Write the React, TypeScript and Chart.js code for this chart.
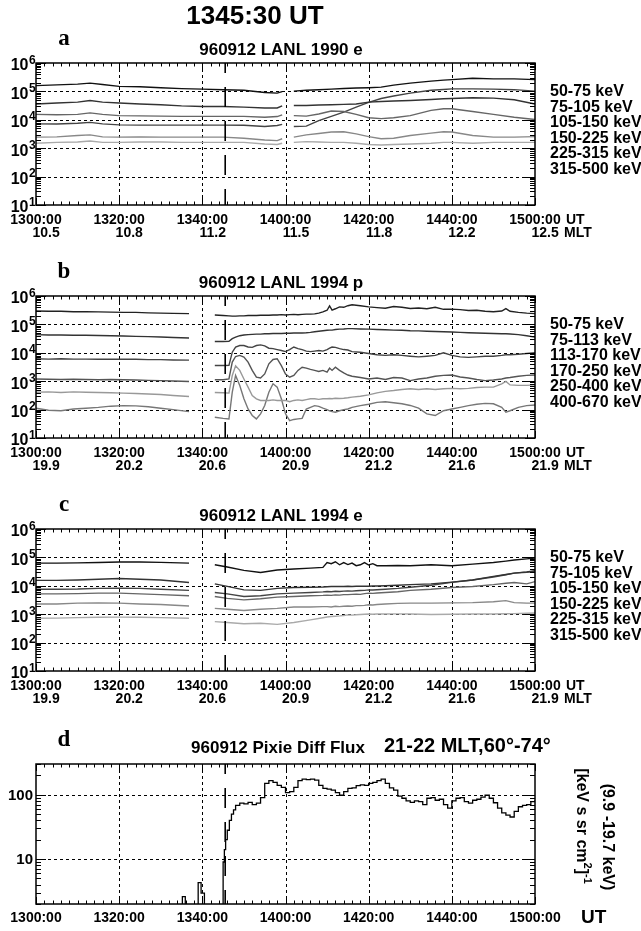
import { useEffect, useRef } from 'react';
import { Chart, registerables } from 'chart.js';

Chart.register(...registerables);

// ---------------- shared axis data ----------------
const UT_TICK_MIN = [0, 20, 40, 60, 80, 100, 120]; // minutes after 1300 UT
const UT_LABELS = ['1300:00', '1320:00', '1340:00', '1400:00', '1420:00', '1440:00', '1500:00'];
const MLT_1990 = ['10.5', '10.8', '11.2', '11.5', '11.8', '12.2', '12.5'];
const MLT_1994 = ['19.9', '20.2', '20.6', '20.9', '21.2', '21.6', '21.9'];
const EVENT_MIN = 45.5; // 1345:30 UT
const HEADLINE = '1345:30 UT';
const DECADE_EXPS = [1, 2, 3, 4, 5, 6];
const PIXIE_Y_TICKS = [10, 100];
const PIXIE_Y_LABELS = ['10', '100'];

const LEGEND_1990E = ['50-75 keV', '75-105 keV', '105-150 keV', '150-225 keV', '225-315 keV', '315-500 keV'];
const LEGEND_1994P = ['50-75 keV', '75-113 keV', '113-170 keV', '170-250 keV', '250-400 keV', '400-670 keV'];
const LEGEND_1994E = ['50-75 keV', '75-105 keV', '105-150 keV', '150-225 keV', '225-315 keV', '315-500 keV'];

// ---------------- panel a: LANL 1990 electrons ----------------
const TIME_A = [0, 5, 10, 13, 16, 20, 25, 30, 35, 40, 45, 50, 55, 58, 59.2, 60.5, 62, 65, 68, 71, 74, 77, 80, 83, 86, 90, 95, 98, 100, 105, 110, 115, 120];
const A_50_75 = [1.6e5, 1.7e5, 1.8e5, 1.95e5, 1.75e5, 1.5e5, 1.45e5, 1.35e5, 1.25e5, 1.2e5, 1.15e5, 1.1e5, 9.1e4, 8.7e4, 9.8e4, null, 1.02e5, 1.1e5, 1.15e5, 1.2e5, 1.26e5, 1.32e5, 1.35e5, 1.41e5, 1.66e5, 1.95e5, 2.3e5, 2.5e5, 2.6e5, 2.9e5, 2.75e5, 2.75e5, 2.6e5];
const A_75_105 = [3.6e4, 3.9e4, 4.2e4, 4.8e4, 4.2e4, 3.9e4, 3.6e4, 3.4e4, 3.1e4, 2.95e4, 2.95e4, 2.8e4, 2.6e4, 2.6e4, 3.1e4, null, 3.2e4, 3.2e4, 3.3e4, 3.4e4, 3.5e4, 3.6e4, 4.2e4, 4.4e4, 4.6e4, 4.8e4, 5.2e4, 5.5e4, 5.6e4, 6.0e4, 5.8e4, 5.1e4, 3.6e4];
const A_105_150 = [1.55e4, 1.5e4, 1.55e4, 1.75e4, 1.55e4, 1.4e4, 1.38e4, 1.35e4, 1.32e4, 1.32e4, 1.32e4, 1.32e4, 1.23e4, 1.3e4, 1.5e4, null, 1.4e4, 1.35e4, 1.6e4, 2.05e4, 1.95e4, 1.55e4, 1.18e4, 1.1e4, 1.18e4, 1.4e4, 2.15e4, 2.45e4, 2.45e4, 1.95e4, 1.55e4, 1.23e4, 1.02e4];
const A_150_225 = [7.2e3, 7.1e3, 7.6e3, 8.1e3, 7.2e3, 6.6e3, 6.5e3, 6.5e3, 6.5e3, 6.5e3, 6.5e3, 6.4e3, 5.8e3, 6.3e3, 6.9e3, null, 5.8e3, 6.0e3, 9.3e3, 1.32e4, 1.86e4, 2.8e4, 4.1e4, 5.6e4, 6.9e4, 8.7e4, 1.1e5, 1.17e5, 1.23e5, 1.23e5, 1.2e5, 1.15e5, 1.02e5];
const A_225_315 = [2.45e3, 2.5e3, 2.8e3, 2.95e3, 2.5e3, 2.45e3, 2.5e3, 2.45e3, 2.45e3, 2.45e3, 2.45e3, 2.25e3, 1.95e3, 1.85e3, 2.15e3, null, 2.45e3, 2.95e3, 3.3e3, 3.7e3, 3.8e3, 3.2e3, 2.55e3, 2.15e3, 2.25e3, 2.8e3, 3.4e3, 3.8e3, 3.7e3, 2.8e3, 2.45e3, 2.45e3, 2.55e3];
const A_315_500 = [1.5e3, 1.6e3, 1.65e3, 1.8e3, 1.6e3, 1.6e3, 1.65e3, 1.65e3, 1.6e3, 1.6e3, 1.6e3, 1.6e3, 1.4e3, 1.35e3, 1.5e3, null, 1.6e3, 1.7e3, 1.65e3, 1.6e3, 1.6e3, 1.5e3, 1.35e3, 1.3e3, 1.35e3, 1.4e3, 1.5e3, 1.6e3, 1.6e3, 1.5e3, 1.6e3, 1.6e3, 1.6e3];

// ---------------- panel b: LANL 1994 protons ----------------
const TIME_B = [0, 3, 6, 9, 12, 15, 18, 21, 24, 27, 30, 33, 36.8, 40,
  43, 45, 46.4, 47.2, 48, 49, 50, 51, 52, 53, 54, 55, 56, 57, 58, 59, 60, 61, 62, 63, 64, 65, 66, 67, 68, 69, 70, 70.6, 71.2,
  72, 73, 74, 75, 76, 78, 80, 82, 84, 86, 88, 90, 92, 94, 96, 98, 100, 102, 104, 106, 108, 110, 112, 113, 114, 116, 118, 120];
const B_50_75 = [2.95e5, 2.9e5, 2.9e5, 2.8e5, 2.8e5, 2.75e5, 2.7e5, 2.65e5, 2.65e5, 2.55e5, 2.5e5, 2.45e5, 2.4e5, null,
  2.15e5, 2.05e5, 2.0e5, 1.95e5, 1.95e5, 2.0e5, 2.0e5, 2.05e5, 2.05e5, 2.05e5, 2.1e5, 2.1e5, 2.1e5, 2.15e5, 2.15e5, 2.2e5, 2.15e5, 2.2e5, 2.25e5, 2.2e5, 2.25e5, 2.3e5, 2.3e5, 2.35e5, 2.5e5, 2.75e5, 3.15e5, 4.5e5, 3.2e5,
  3.55e5, 4.15e5, 4.0e5, 4.55e5, 4.9e5, 4.55e5, 4.15e5, 3.9e5, 3.7e5, 4.25e5, 4.0e5, 3.65e5, 3.8e5, 3.55e5, 4.0e5, 3.4e5, 3.45e5, 3.3e5, 3.1e5, 3.15e5, 2.9e5, 2.8e5, 2.95e5, 3.6e5, 2.9e5, 2.65e5, 2.5e5, 2.4e5];
const B_75_113 = [4.35e4, 4.25e4, 4.25e4, 4.15e4, 4.15e4, 4.05e4, 4.0e4, 3.9e4, 3.8e4, 3.7e4, 3.6e4, 3.45e4, 3.3e4, null,
  2.5e4, 2.5e4, 2.55e4, 3.15e4, 3.55e4, 4.0e4, 4.25e4, 4.35e4, 4.45e4, 4.55e4, 4.55e4, 4.7e4, 4.7e4, 4.8e4, 4.8e4, 4.8e4, 4.9e4, 4.9e4, 5.0e4, 5.0e4, 5.0e4, 5.1e4, 5.25e4, 5.5e4, 5.75e4, 6.0e4, 6.2e4, 6.3e4, 6.3e4,
  6.6e4, 6.8e4, 6.9e4, 7.1e4, 7.1e4, 6.9e4, 6.8e4, 6.6e4, 6.5e4, 6.3e4, 6.2e4, 6.0e4, 5.9e4, 5.75e4, 5.6e4, 5.5e4, 5.4e4, 5.25e4, 5.1e4, 5.0e4, 4.9e4, 4.8e4, 4.7e4, 4.7e4, 4.6e4, 4.35e4, 4.0e4, 3.55e4];
const B_113_170 = [6.2e3, 6.0e3, 6.2e3, 6.0e3, 6.0e3, 5.9e3, 6.0e3, 5.9e3, 5.9e3, 5.75e3, 5.75e3, 5.6e3, 5.5e3, null,
  3.55e3, 3.55e3, 3.6e3, 1.05e4, 1.6e4, 1.8e4, 1.8e4, 1.6e4, 1.55e4, 1.8e4, 1.9e4, 1.75e4, 1.45e4, 1.4e4, 1.3e4, 1.2e4, 1.1e4, 1.3e4, 1.6e4, 1.4e4, 1.3e4, 1.15e4, 1.1e4, 1.15e4, 1.2e4, 1.15e4, 1.3e4, 1.45e4, 1.6e4,
  1.55e4, 1.4e4, 1.3e4, 1.25e4, 1.1e4, 1.05e4, 9.5e3, 8.5e3, 8.1e3, 8.5e3, 8.1e3, 7.6e3, 7.2e3, 7.6e3, 8.1e3, 1.0e4, 8.1e3, 7.2e3, 6.9e3, 7.2e3, 7.6e3, 7.6e3, 8.1e3, 8.5e3, 8.5e3, 8.9e3, 9.5e3, 1.0e4];
const B_170_250 = [1.2e3, 1.17e3, 1.15e3, 1.17e3, 1.15e3, 1.12e3, 1.15e3, 1.12e3, 1.1e3, 1.07e3, 1.05e3, 1.02e3, 9.8e2, null,
  1.12e3, 1.12e3, 1.2e3, 4.7e3, 7.4e3, 8.1e3, 7.1e3, 4.7e3, 2.4e3, 1.38e3, 1.3e3, 1.8e3, 4.1e3, 5.8e3, 6.2e3, 3.55e3, 1.8e3, 1.38e3, 1.6e3, 2.4e3, 3.1e3, 2.9e3, 2.6e3, 2.4e3, 2.2e3, 2.4e3, 2.1e3, 2.9e3, 2.4e3,
  3.1e3, 2.4e3, 1.95e3, 1.65e3, 1.5e3, 1.35e3, 1.2e3, 1.3e3, 1.15e3, 1.35e3, 1.3e3, 1.05e3, 1.2e3, 1.3e3, 1.5e3, 1.6e3, 1.65e3, 1.4e3, 1.3e3, 1.15e3, 1.05e3, 1.1e3, 1.2e3, 1.3e3, 1.35e3, 1.5e3, 1.6e3, 1.65e3];
const B_250_400 = [4.1e2, 4.2e2, 4.0e2, 4.2e2, 4.1e2, 4.0e2, 3.9e2, 3.8e2, 3.7e2, 3.55e2, 3.4e2, 3.15e2, 2.9e2, null,
  4.0e2, 3.9e2, 3.8e2, 1.6e3, 3.5e3, 2.4e3, 1.2e3, 6.2e2, 3.1e2, 2.4e2, 2.1e2, 2.1e2, 2.1e2, 2.2e2, 2.1e2, 2.1e2, 2.1e2, 1.9e2, 2.1e2, 2.2e2, 2.1e2, 2.25e2, 2.4e2, 2.4e2, 2.3e2, 2.4e2, 2.4e2, 2.45e2, 2.4e2,
  2.5e2, 2.45e2, 2.5e2, 2.6e2, 2.75e2, 2.95e2, 3.3e2, 3.9e2, 4.4e2, 4.7e2, 5.1e2, 5.4e2, 5.1e2, 5.4e2, 5.1e2, 5.4e2, 5.6e2, 5.4e2, 5.6e2, 6.0e2, 6.2e2, 6.2e2, 8.1e2, 9.8e2, 7.4e2, 7.1e2, 7.1e2, 7.4e2];
const B_400_670 = [1.12e2, 95, 91, 1.05e2, 1.12e2, 1.2e2, 1.32e2, 1.38e2, 1.35e2, 1.26e2, 1.12e2, 1.0e2, 85, null,
  54, 49, 47, 4.1e2, 1.6e3, 7.1e2, 2.4e2, 1.05e2, 62, 47, 71, 1.4e2, 4.1e2, 8.1e2, 6.2e2, 2.4e2, 71, 41, 45, 47, 49, 1.05e2, 1.2e2, 1.38e2, 1.3e2, 1.12e2, 1.0e2, 91, 85,
  81, 91, 1.0e2, 1.05e2, 1.2e2, 1.38e2, 1.55e2, 1.8e2, 1.9e2, 1.75e2, 1.6e2, 1.4e2, 1.12e2, 71, 62, 91, 1.05e2, 1.2e2, 1.38e2, 1.55e2, 1.65e2, 1.6e2, 1.2e2, 81, 91, 1.2e2, 1.38e2, 1.45e2];

// ---------------- panel c: LANL 1994 electrons ----------------
const TIME_C = [0, 5, 10, 15, 20, 25, 30, 36.8, 40, 43, 46, 50, 54, 58, 62, 66, 69, 70, 71, 72, 73, 74, 75, 76, 77, 78, 79, 80, 81, 82, 84, 87, 90, 95, 100, 105, 110, 113, 115, 118, 120];
const C_50_75 = [6.3e4, 6.3e4, 6.4e4, 6.6e4, 6.9e4, 6.9e4, 6.7e4, 6.3e4, null, 5.5e4, 4.6e4, 3.5e4, 2.95e4, 3.6e4, 3.9e4, 4.2e4, 4.45e4, 6.6e4, 6.0e4, 7.0e4, 5.5e4, 6.6e4, 5.6e4, 6.3e4, 5.1e4, 5.5e4, 6.6e4, 5.4e4, 6.0e4, 5.1e4, 5.1e4, 5.2e4, 5.1e4, 5.5e4, 5.1e4, 5.8e4, 6.6e4, 7.4e4, 8.1e4, 8.9e4, 9.5e4];
const C_75_105 = [1.55e4, 1.55e4, 1.6e4, 1.7e4, 1.8e4, 1.7e4, 1.6e4, 1.3e4, null, 1.17e4, 9.5e3, 7.2e3, 6.9e3, 8.1e3, 8.7e3, 8.9e3, 9.1e3, 9.3e3, 9.4e3, 9.5e3, 9.4e3, 9.5e3, 9.6e3, 9.5e3, 9.6e3, 9.7e3, 9.6e3, 9.7e3, 9.8e3, 9.8e3, 1.0e4, 1.05e4, 1.1e4, 1.17e4, 1.35e4, 1.6e4, 2.15e4, 2.5e4, 2.8e4, 3.1e4, 3.4e4];
const C_105_150 = [7.6e3, 7.6e3, 7.7e3, 8.1e3, 8.2e3, 8.1e3, 7.6e3, 6.9e3, null, 5.8e3, 5.2e3, 4.2e3, 4.45e3, 5.2e3, 5.5e3, 5.8e3, 6.1e3, 6.3e3, 6.2e3, 6.4e3, 6.3e3, 6.5e3, 6.6e3, 6.5e3, 6.7e3, 6.8e3, 6.9e3, 7.2e3, 7.1e3, 7.3e3, 7.6e3, 8.1e3, 8.9e3, 1.05e4, 1.32e4, 1.6e4, 2.05e4, 2.45e4, 2.8e4, 3.0e4, 3.2e4];
const C_150_225 = [5.2e3, 5.2e3, 5.3e3, 5.5e3, 5.5e3, 5.2e3, 4.9e3, 4.45e3, null, 4.2e3, 3.6e3, 3.2e3, 3.5e3, 4.0e3, 4.2e3, 4.45e3, 4.6e3, 4.7e3, 4.6e3, 4.8e3, 4.7e3, 4.9e3, 4.9e3, 5.0e3, 5.1e3, 5.0e3, 5.3e3, 5.5e3, 5.4e3, 5.6e3, 5.8e3, 6.2e3, 6.9e3, 7.6e3, 8.7e3, 9.5e3, 1.1e4, 1.23e4, 1.3e4, 1.17e4, 1.4e4];
const C_225_315 = [2.3e3, 2.3e3, 2.45e3, 2.5e3, 2.45e3, 2.3e3, 2.2e3, 1.95e3, null, 1.6e3, 1.5e3, 1.35e3, 1.5e3, 1.6e3, 1.8e3, 1.8e3, 1.85e3, 1.85e3, 1.8e3, 1.9e3, 1.85e3, 1.9e3, 1.95e3, 1.9e3, 2.0e3, 2.0e3, 2.05e3, 2.15e3, 2.1e3, 2.2e3, 2.3e3, 2.4e3, 2.45e3, 2.45e3, 2.5e3, 2.55e3, 2.75e3, 3.0e3, 2.55e3, 2.45e3, 2.45e3];
const C_315_500 = [7.2e2, 7.3e2, 7.6e2, 7.8e2, 7.9e2, 7.8e2, 7.6e2, 7.2e2, null, 5.5e2, 5.1e2, 4.6e2, 4.8e2, 4.4e2, 5.1e2, 6.3e2, 7.5e2, 8.0e2, 8.3e2, 8.5e2, 8.7e2, 9.0e2, 9.5e2, 9.3e2, 9.6e2, 9.8e2, 1.0e3, 1.02e3, 1.0e3, 1.02e3, 1.02e3, 1.03e3, 1.02e3, 9.8e2, 1.0e3, 1.02e3, 1.02e3, 1.04e3, 1.05e3, 1.08e3, 1.1e3];

// ---------------- panel d: Pixie differential flux ----------------
const TIME_D = [30, 35.2, 35.9, 39.0, 39.7, 40.5, 45.0, 45.3, 45.6, 46.0, 46.5, 47.0, 47.5,
  48, 49, 50, 51, 52, 53, 54, 55, 56, 57, 58, 59, 60, 61, 62, 63, 64, 65, 66, 67, 68, 69, 70, 71, 72, 73, 74, 75, 76, 77, 78, 79, 80,
  81, 82, 83, 84, 85, 86, 87, 88, 89, 90, 91, 92, 93, 94, 95, 96, 97, 98, 99, 100, 101, 102, 103, 104, 105, 106, 107, 108, 109, 110,
  111, 112, 113, 114, 115, 116, 117, 118, 119, 120];
const D_FLUX = [1, 2.6, 1, 4.3, 2.95, 1, 9, 14, 20, 28, 40, 50, 58,
  68, 74, 72, 76, 70, 74, 90, 150, 165, 155, 140, 130, 108, 112, 130, 165, 175, 172, 175, 168, 140, 125, 122, 118, 108, 98, 112, 125, 128, 138, 142, 140, 150,
  155, 165, 175, 150, 128, 118, 95, 88, 80, 76, 80, 78, 70, 88, 90, 82, 85, 70, 62, 80, 88, 90, 78, 74, 82, 85, 92, 98, 88, 75,
  62, 52, 48, 45, 55, 65, 68, 70, 78, 82];

// ---------------- layout ----------------
const FONT = '"Liberation Sans", Arial, Helvetica, sans-serif';
const SERIF = '"Liberation Serif", "Times New Roman", serif';
const W = 641;
const PLOT_LEFT = 36;
const PLOT_RIGHT = 535;
const LEGEND_DY = [29, 44.5, 60, 75.5, 91, 106.5];

type Panel = {
  letter: string;
  top: number;
  height: number;
  plotTop: number;
  plotBottom: number;
  title: string;
  titleX: number;
  legend?: string[];
  colors: string[];
  times: number[];
  series: (number | null)[][];
  mlt?: string[];
  yMin: number;
  yMax: number;
  gridY: number[];
  pixie?: boolean;
  headline?: boolean;
};

const PANELS: Panel[] = [
  {
    letter: 'a', top: 0, height: 241, plotTop: 63, plotBottom: 205,
    title: '960912 LANL 1990 e', titleX: 281, legend: LEGEND_1990E,
    colors: ['#111', '#333', '#666', '#444', '#888', '#aaa'],
    times: TIME_A, series: [A_50_75, A_75_105, A_105_150, A_150_225, A_225_315, A_315_500],
    mlt: MLT_1990, yMin: 10, yMax: 1e6, gridY: [1e2, 1e3, 1e4, 1e5], headline: true,
  },
  {
    letter: 'b', top: 241, height: 233, plotTop: 296, plotBottom: 438,
    title: '960912 LANL 1994 p', titleX: 281, legend: LEGEND_1994P,
    colors: ['#222', '#333', '#444', '#555', '#999', '#777'],
    times: TIME_B, series: [B_50_75, B_75_113, B_113_170, B_170_250, B_250_400, B_400_670],
    mlt: MLT_1994, yMin: 10, yMax: 1e6, gridY: [1e2, 1e3, 1e4, 1e5],
  },
  {
    letter: 'c', top: 474, height: 238, plotTop: 529, plotBottom: 671,
    title: '960912 LANL 1994 e', titleX: 281, legend: LEGEND_1994E,
    colors: ['#111', '#333', '#444', '#666', '#888', '#aaa'],
    times: TIME_C, series: [C_50_75, C_75_105, C_105_150, C_150_225, C_225_315, C_315_500],
    mlt: MLT_1994, yMin: 10, yMax: 1e6, gridY: [1e2, 1e3, 1e4, 1e5],
  },
  {
    letter: 'd', top: 712, height: 219, plotTop: 764, plotBottom: 904,
    title: '960912 Pixie Diff Flux', titleX: 278,
    colors: ['#000'], times: TIME_D, series: [D_FLUX],
    yMin: 2, yMax: 300, gridY: PIXIE_Y_TICKS, pixie: true,
  },
];

function seg(ctx: CanvasRenderingContext2D, x1: number, y1: number, x2: number, y2: number) {
  ctx.beginPath();
  ctx.moveTo(x1, y1);
  ctx.lineTo(x2, y2);
  ctx.stroke();
}

function richText(ctx: CanvasRenderingContext2D, parts: { t: string; size: number; dy: number }[], cx: number, cy: number) {
  let total = 0;
  parts.forEach((p) => { ctx.font = `bold ${p.size}px ${FONT}`; total += ctx.measureText(p.t).width; });
  let x = cx - total / 2;
  ctx.textAlign = 'left';
  parts.forEach((p) => {
    ctx.font = `bold ${p.size}px ${FONT}`;
    ctx.fillText(p.t, x, cy + p.dy);
    x += ctx.measureText(p.t).width;
  });
}

function makeDecor(p: Panel) {
  const Y = (pageY: number) => pageY - p.top;
  return {
    id: 'decor_' + p.letter,
    beforeDatasetsDraw(chart: any) {
      const { ctx, chartArea: a } = chart;
      const xs = chart.scales.x, ys = chart.scales.y;
      ctx.save();
      ctx.strokeStyle = '#000';
      ctx.lineWidth = 1;
      ctx.setLineDash([3, 3]);
      UT_TICK_MIN.forEach((t) => {
        if (t <= 0 || t >= 120) return;
        const x = Math.round(xs.getPixelForValue(t)) + 0.5;
        seg(ctx, x, a.top, x, a.bottom);
      });
      p.gridY.forEach((v) => {
        const y = Math.round(ys.getPixelForValue(v)) + 0.5;
        seg(ctx, a.left, y, a.right, y);
      });
      ctx.restore();
    },
    afterDatasetsDraw(chart: any) {
      const { ctx, chartArea: a } = chart;
      const xs = chart.scales.x, ys = chart.scales.y;
      ctx.save();
      ctx.strokeStyle = '#000';
      ctx.fillStyle = '#000';

      // event marker 1345:30
      const ex = xs.getPixelForValue(EVENT_MIN);
      ctx.lineWidth = 1.6;
      ctx.setLineDash([20, 14]);
      ctx.lineDashOffset = 10;
      seg(ctx, ex, a.top, ex, a.bottom);
      ctx.setLineDash([]);

      // frame
      ctx.lineWidth = 1.5;
      ctx.strokeRect(a.left, a.top, a.right - a.left, a.bottom - a.top);

      // x ticks (inward, every 2 minutes)
      ctx.lineWidth = 1;
      for (let t = 0; t <= 120; t += 2) {
        const x = Math.round(xs.getPixelForValue(t)) + 0.5;
        const len = t % 20 === 0 ? 7 : 3.5;
        seg(ctx, x, a.bottom, x, a.bottom - len);
        seg(ctx, x, a.top, x, a.top + len);
      }
      // y ticks (log minor)
      const kMin = Math.floor(Math.log10(p.yMin));
      const kMax = Math.ceil(Math.log10(p.yMax));
      for (let k = kMin; k <= kMax; k++) {
        for (let m = 1; m <= 9; m++) {
          const v = m * Math.pow(10, k);
          if (v < p.yMin * 0.999 || v > p.yMax * 1.001) continue;
          const y = Math.round(ys.getPixelForValue(v)) + 0.5;
          const len = m === 1 ? 10 : 5;
          seg(ctx, a.left, y, a.left + len, y);
          seg(ctx, a.right, y, a.right - len, y);
        }
      }

      // y labels
      if (p.pixie) {
        ctx.font = `bold 15px ${FONT}`;
        ctx.textAlign = 'right';
        ctx.textBaseline = 'middle';
        PIXIE_Y_TICKS.forEach((v, i) => ctx.fillText(PIXIE_Y_LABELS[i], 33, ys.getPixelForValue(v) + 1));
      } else {
        DECADE_EXPS.forEach((e) => {
          const y = ys.getPixelForValue(Math.pow(10, e));
          ctx.textBaseline = 'middle';
          ctx.textAlign = 'right';
          ctx.font = `bold 16px ${FONT}`;
          ctx.fillText('10', 28.5, y + 3);
          ctx.textAlign = 'left';
          ctx.textBaseline = 'alphabetic';
          ctx.font = `bold 12px ${FONT}`;
          ctx.fillText(String(e), 29, y + 0.5);
        });
      }

      // x labels
      ctx.textBaseline = 'middle';
      ctx.font = `bold 14px ${FONT}`;
      const rowUT = a.bottom + (p.pixie ? 14 : 15);
      const rowMLT = a.bottom + 28;
      UT_TICK_MIN.forEach((t, i) => {
        const x = xs.getPixelForValue(t);
        ctx.font = `bold 14px ${FONT}`;
        ctx.textAlign = 'center';
        ctx.fillText(UT_LABELS[i], x, rowUT);
        if (p.mlt) {
          const half = ctx.measureText(UT_LABELS[i]).width / 2;
          ctx.textAlign = 'right';
          ctx.fillText(p.mlt[i], x + half - 2, rowMLT);
        }
      });
      ctx.textAlign = 'left';
      if (p.pixie) {
        ctx.font = `bold 19px ${FONT}`;
        ctx.fillText('UT', 581, rowUT);
      } else {
        ctx.fillText('UT', 566, rowUT);
        ctx.fillText('MLT', 564, rowMLT);
      }

      // panel letter
      ctx.font = `bold 23px ${SERIF}`;
      ctx.textAlign = 'center';
      ctx.textBaseline = 'alphabetic';
      ctx.fillText(p.letter, 64, a.top - 18);

      // title
      ctx.font = `bold 17px ${FONT}`;
      ctx.textBaseline = 'middle';
      ctx.textAlign = 'center';
      ctx.fillText(p.title, p.titleX, a.top - (p.pixie ? 16 : 13));

      if (p.headline) {
        ctx.font = `bold 26px ${FONT}`;
        ctx.fillText(HEADLINE, 255, Y(17));
      }

      // legend
      if (p.legend) {
        ctx.font = `bold 16px ${FONT}`;
        ctx.textAlign = 'left';
        p.legend.forEach((s, i) => ctx.fillText(s, 550, a.top + LEGEND_DY[i]));
      }

      if (p.pixie) {
        ctx.font = `bold 20px ${FONT}`;
        ctx.textAlign = 'left';
        ctx.fillText('21-22 MLT,60°-74°', 384, a.top - 18);
        // rotated unit labels
        ctx.save();
        ctx.translate(607, Y(837));
        ctx.rotate(Math.PI / 2);
        ctx.font = `bold 16px ${FONT}`;
        ctx.textAlign = 'center';
        ctx.textBaseline = 'middle';
        ctx.fillText('(9.9 -19.7 keV)', 0, 0);
        ctx.restore();
        ctx.save();
        ctx.translate(581, Y(826));
        ctx.rotate(Math.PI / 2);
        ctx.textBaseline = 'middle';
        richText(ctx, [
          { t: '[keV s sr cm', size: 16, dy: 0 },
          { t: '2', size: 11, dy: -6 },
          { t: ']', size: 16, dy: 0 },
          { t: '-1', size: 11, dy: -6 },
        ], 0, 0);
        ctx.restore();
      }
      ctx.restore();
    },
  };
}

function PanelChart({ p }: { p: Panel }) {
  const ref = useRef<HTMLCanvasElement>(null);
  useEffect(() => {
    const canvas = ref.current;
    if (!canvas) return;
    const datasets = p.series.map((vals, i) => ({
      data: p.times.map((t, j) => ({ x: t, y: vals[j] })),
      borderColor: p.colors[i],
      backgroundColor: p.colors[i],
      borderWidth: p.pixie ? 1.3 : 1.4,
      pointRadius: 0,
      tension: 0,
      spanGaps: false,
      stepped: p.pixie ? ('before' as const) : false,
      clip: 0,
    }));
    const chart = new Chart(canvas, {
      type: 'line',
      data: { datasets },
      options: {
        responsive: false,
        animation: false,
        devicePixelRatio: 1,
        events: [],
        layout: {
          padding: {
            top: p.plotTop - p.top,
            bottom: p.top + p.height - p.plotBottom,
            left: PLOT_LEFT,
            right: W - PLOT_RIGHT,
          },
        },
        plugins: { legend: { display: false }, tooltip: { enabled: false }, title: { display: false } },
        scales: {
          x: { type: 'linear', min: 0, max: 120, display: false },
          y: { type: 'logarithmic', min: p.yMin, max: p.yMax, display: false },
        },
      },
      plugins: [makeDecor(p)],
    } as any);
    return () => chart.destroy();
  }, [p]);
  return (
    <canvas
      ref={ref}
      width={W}
      height={p.height}
      style={{ position: 'absolute', left: 0, top: p.top, width: W, height: p.height, display: 'block' }}
    />
  );
}

export default function App() {
  return (
    <div style={{ position: 'absolute', left: 0, top: 0, width: W, height: 931, background: '#fff', overflow: 'hidden' }}>
      {PANELS.map((p) => (
        <PanelChart key={p.letter} p={p} />
      ))}
    </div>
  );
}
